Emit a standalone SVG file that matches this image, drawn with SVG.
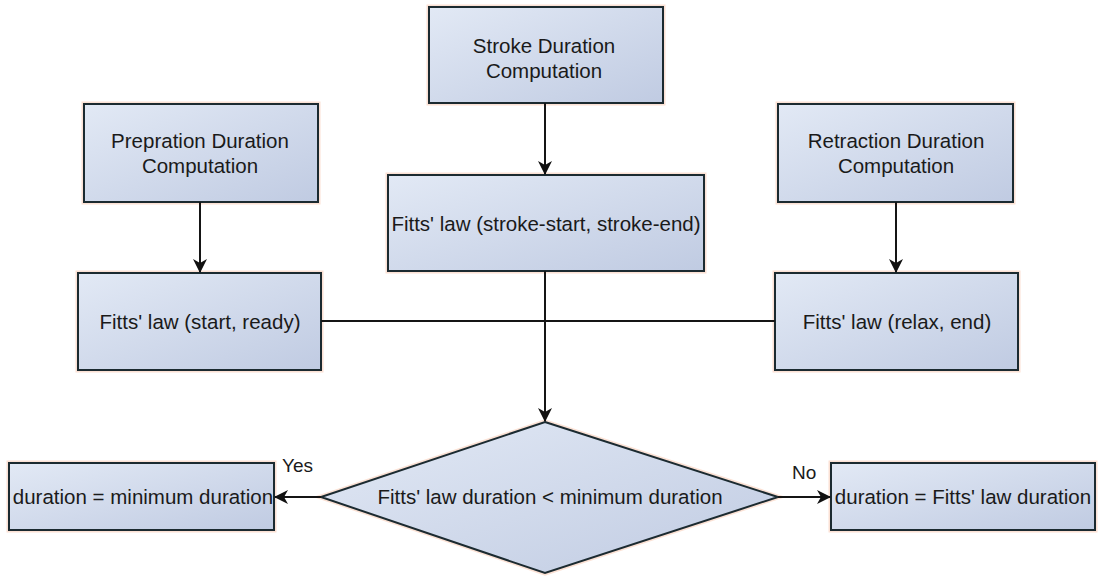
<svg xmlns="http://www.w3.org/2000/svg" width="1099" height="577" viewBox="0 0 1099 577">
<style>
.box{fill:url(#g);stroke:#1b2a30;stroke-width:2}
.halo{fill:none;stroke:#f8cdb8;stroke-width:5;opacity:0.6}
.t{font-family:"Liberation Sans",Arial,sans-serif;font-size:20.5px;fill:#1a1a1a;text-anchor:middle}
.lbl{font-family:"Liberation Sans",Arial,sans-serif;font-size:19px;fill:#1a1a1a}
.c{stroke:#151515;stroke-width:2;fill:none}
</style>
<defs>
<linearGradient id="g" x1="0" y1="0" x2="1" y2="1">
<stop offset="0" stop-color="#e2e9f5"/>
<stop offset="1" stop-color="#c0cbe2"/>
</linearGradient>
<marker id="a" markerWidth="14" markerHeight="14" refX="13" refY="7" orient="auto" markerUnits="userSpaceOnUse">
<path d="M0,0 L14,7 L0,14 L4,7 Z" fill="#111"/>
</marker>
</defs>
<rect width="1099" height="577" fill="#ffffff"/>

<g id="stroke-duration">
<rect class="halo" x="429" y="7" width="234" height="96"/>
<rect class="box" x="429" y="7" width="234" height="96"/>
<text class="t" x="544" y="53">Stroke Duration</text>
<text class="t" x="544" y="78">Computation</text>
</g>

<g id="fitts-stroke">
<rect class="halo" x="388" y="175" width="316" height="96"/>
<rect class="box" x="388" y="175" width="316" height="96"/>
<text class="t" x="546" y="231">Fitts' law (stroke-start, stroke-end)</text>
</g>

<g id="prep-duration">
<rect class="halo" x="84" y="104" width="234" height="98"/>
<rect class="box" x="84" y="104" width="234" height="98"/>
<text class="t" x="200" y="148">Prepration Duration</text>
<text class="t" x="200" y="173">Computation</text>
</g>

<g id="retraction-duration">
<rect class="halo" x="778" y="104" width="235" height="98"/>
<rect class="box" x="778" y="104" width="235" height="98"/>
<text class="t" x="896" y="148">Retraction Duration</text>
<text class="t" x="896" y="173">Computation</text>
</g>

<g id="fitts-start">
<rect class="halo" x="78" y="273" width="243" height="97"/>
<rect class="box" x="78" y="273" width="243" height="97"/>
<text class="t" x="200" y="329">Fitts' law (start, ready)</text>
</g>

<g id="fitts-relax">
<rect class="halo" x="775" y="273" width="243" height="97"/>
<rect class="box" x="775" y="273" width="243" height="97"/>
<text class="t" x="897" y="329">Fitts' law (relax, end)</text>
</g>

<g id="decision">
<polygon class="halo" points="545,422 778,497 545,573 321,497"/>
<polygon class="box" points="545,422 778,497 545,573 321,497"/>
<text class="t" x="550" y="504">Fitts' law duration &lt; minimum duration</text>
</g>

<g id="min-duration">
<rect class="halo" x="9" y="463" width="265" height="67"/>
<rect class="box" x="9" y="463" width="265" height="67"/>
<text class="t" x="143" y="504">duration = minimum duration</text>
</g>

<g id="fitts-duration">
<rect class="halo" x="831" y="463" width="264" height="67"/>
<rect class="box" x="831" y="463" width="264" height="67"/>
<text class="t" x="963" y="504">duration = Fitts' law duration</text>
</g>

<g id="connectors">
<line class="c" x1="545" y1="103" x2="545" y2="174" marker-end="url(#a)"/>
<line class="c" x1="200" y1="202" x2="200" y2="272" marker-end="url(#a)"/>
<line class="c" x1="896" y1="202" x2="896" y2="272" marker-end="url(#a)"/>
<line class="c" x1="321" y1="321" x2="775" y2="321"/>
<line class="c" x1="545" y1="271" x2="545" y2="421" marker-end="url(#a)"/>
<line class="c" x1="321" y1="497" x2="275" y2="497" marker-end="url(#a)"/>
<line class="c" x1="778" y1="497" x2="830" y2="497" marker-end="url(#a)"/>
<text class="lbl" x="282" y="472">Yes</text>
<text class="lbl" x="792" y="479">No</text>
</g>
</svg>
